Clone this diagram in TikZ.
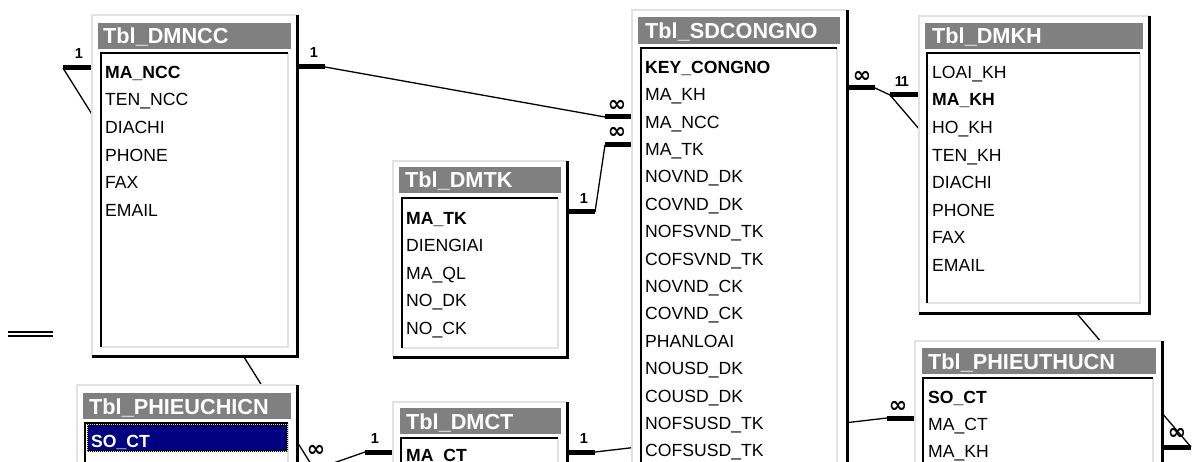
\documentclass[tikz,border=0pt]{standalone}
\usepackage{fontspec}
\setmainfont{Liberation Sans}
\newfontfamily\symfont{DejaVu Sans}
\definecolor{framelite}{RGB}{226,226,226}
\definecolor{titlegray}{RGB}{128,128,128}
\definecolor{selnavy}{RGB}{0,0,128}

\begin{document}
\begin{tikzpicture}[x=1pt, y=-1pt,
  lite/.style={draw=framelite, line width=2pt},
  dark/.style={draw=black, line width=3pt},
  indark/.style={draw=black, line width=2.5pt},
  titlebar/.style={fill=titlegray},
  ttl/.style={anchor=base west, inner sep=0pt, text=white, font=\fontsize{21.7}{24}\selectfont\bfseries},
  fld/.style={anchor=base west, inner sep=0pt, font=\fontsize{17.6}{20}\selectfont},
  pkey/.style={fld, font=\fontsize{17.6}{20}\selectfont\bfseries},
  rel/.style={line width=1.3pt},
  stub/.style={line width=5pt},
  onelbl/.style={inner sep=0pt, font=\fontsize{14.5}{16}\selectfont\bfseries},
  manylbl/.style={inner sep=0pt, font=\symfont\fontsize{22}{24}\selectfont\bfseries}]
\useasboundingbox (0,0) rectangle (1196,462);
\clip (0,0) rectangle (1196,462);

\coordinate (ncc-l) at (63,68);
\coordinate (ncc-r) at (325,67);
\coordinate (sd-ncc) at (605,117);
\coordinate (sd-tk) at (605,145);
\coordinate (tk-r) at (595,212);
\coordinate (sd-kh) at (875,88);
\coordinate (kh-l) at (890,95);
\coordinate (ct-r) at (595,452);
\coordinate (thu-l) at (887,418);
\coordinate (ct-l) at (365,452);
\coordinate (chi-r) at (325,466);
\coordinate (chi-g) at (321,480);
\coordinate (thu-r) at (1191,447);

\draw[rel] (ncc-l) -- (chi-g);
\draw[rel] (ncc-r) -- (sd-ncc);
\draw[rel] (tk-r) -- (sd-tk);
\draw[rel] (sd-kh) -- (kh-l);
\draw[rel] (kh-l) -- (thu-r);
\draw[rel] (ct-r) -- (thu-l);
\draw[rel] (ct-l) -- (chi-r);

\draw[line width=1.5pt] (8,332) -- (53,332);
\draw[line width=1.5pt] (8,336) -- (53,336);

\fill[white] (92,15) rectangle (297,356);
\draw[lite] (92,356) -- (92,15) -- (297,15);
\draw[dark] (297,15) -- (297,356) -- (92,356);
\fill[titlebar] (98,23) rectangle (291,49);
\draw[lite] (288,53) -- (288,347) -- (101,347);
\draw[indark] (101,347) -- (101,53) -- (288,53);
\node[ttl] (ncc) at (103,44) {Tbl\_DMNCC};
\node[pkey] (ncc-1) at (105,78.3) {MA\_NCC};
\node[fld] (ncc-2) at (105,105.9) {TEN\_NCC};
\node[fld] (ncc-3) at (105,133.5) {DIACHI};
\node[fld] (ncc-4) at (105,161.1) {PHONE};
\node[fld] (ncc-5) at (105,188.7) {FAX};
\node[fld] (ncc-6) at (105,216.3) {EMAIL};

\fill[white] (632,10) rectangle (847,480);
\draw[lite] (632,480) -- (632,10) -- (847,10);
\draw[dark] (847,10) -- (847,480);
\fill[titlebar] (638,17) rectangle (840,44);
\draw[lite] (837,48) -- (837,480);
\draw[indark] (641,480) -- (641,48) -- (837,48);
\node[ttl] (sd) at (645,39) {Tbl\_SDCONGNO};
\node[pkey] (sd-1) at (645,73.3) {KEY\_CONGNO};
\node[fld] (sd-2) at (645,100.7) {MA\_KH};
\node[fld] (sd-3) at (645,128.1) {MA\_NCC};
\node[fld] (sd-4) at (645,155.5) {MA\_TK};
\node[fld] (sd-5) at (645,182.9) {NOVND\_DK};
\node[fld] (sd-6) at (645,210.3) {COVND\_DK};
\node[fld] (sd-7) at (645,237.7) {NOFSVND\_TK};
\node[fld] (sd-8) at (645,265.1) {COFSVND\_TK};
\node[fld] (sd-9) at (645,292.5) {NOVND\_CK};
\node[fld] (sd-10) at (645,319.9) {COVND\_CK};
\node[fld] (sd-11) at (645,347.3) {PHANLOAI};
\node[fld] (sd-12) at (645,374.7) {NOUSD\_DK};
\node[fld] (sd-13) at (645,402.1) {COUSD\_DK};
\node[fld] (sd-14) at (645,429.5) {NOFSUSD\_TK};
\node[fld] (sd-15) at (645,456.9) {COFSUSD\_TK};

\fill[white] (919,16) rectangle (1149,313);
\draw[lite] (919,313) -- (919,16) -- (1149,16);
\draw[dark] (1149,16) -- (1149,313) -- (919,313);
\fill[titlebar] (925,23) rectangle (1143,49);
\draw[lite] (1140,53) -- (1140,303) -- (927,303);
\draw[indark] (927,303) -- (927,53) -- (1140,53);
\node[ttl] (kh) at (932,44) {Tbl\_DMKH};
\node[fld] (kh-1) at (932,78.3) {LOAI\_KH};
\node[pkey] (kh-2) at (932,105.9) {MA\_KH};
\node[fld] (kh-3) at (932,133.5) {HO\_KH};
\node[fld] (kh-4) at (932,161.1) {TEN\_KH};
\node[fld] (kh-5) at (932,188.7) {DIACHI};
\node[fld] (kh-6) at (932,216.3) {PHONE};
\node[fld] (kh-7) at (932,243.9) {FAX};
\node[fld] (kh-8) at (932,271.5) {EMAIL};

\fill[white] (393,161) rectangle (567,357);
\draw[lite] (393,357) -- (393,161) -- (567,161);
\draw[dark] (567,161) -- (567,357) -- (393,357);
\fill[titlebar] (399,167) rectangle (561,193);
\draw[lite] (558,198) -- (558,348) -- (402,348);
\draw[indark] (402,348) -- (402,198) -- (558,198);
\node[ttl] (tk) at (405,188) {Tbl\_DMTK};
\node[pkey] (tk-1) at (406,224.3) {MA\_TK};
\node[fld] (tk-2) at (406,251.8) {DIENGIAI};
\node[fld] (tk-3) at (406,279.3) {MA\_QL};
\node[fld] (tk-4) at (406,306.8) {NO\_DK};
\node[fld] (tk-5) at (406,334.3) {NO\_CK};

\fill[white] (77,385) rectangle (297,480);
\draw[lite] (77,480) -- (77,385) -- (297,385);
\draw[dark] (297,385) -- (297,480);
\fill[titlebar] (83,393) rectangle (291,419);
\draw[lite] (288,423) -- (288,480);
\draw[indark] (85,480) -- (85,423) -- (288,423);
\fill[selnavy] (87,424) rectangle (288,452);
\draw[black, line width=1pt] (87.5,424.5) rectangle (287.5,451.5);
\draw[yellow, line width=1pt, dash pattern=on 1pt off 1pt] (87.5,424.5) rectangle (287.5,451.5);
\node[ttl] (chi) at (89,414) {Tbl\_PHIEUCHICN};
\node[pkey, text=white] (chi-1) at (91,447) {SO\_CT};

\fill[white] (393,402) rectangle (567,480);
\draw[lite] (393,480) -- (393,402) -- (567,402);
\draw[dark] (567,402) -- (567,480);
\fill[titlebar] (400,408) rectangle (561,434);
\draw[lite] (558,438) -- (558,480);
\draw[indark] (401,480) -- (401,438) -- (558,438);
\node[ttl] (ct) at (406,429) {Tbl\_DMCT};
\node[pkey] (ct-1) at (406,461) {MA\_CT};

\fill[white] (915,341) rectangle (1162,480);
\draw[lite] (915,480) -- (915,341) -- (1162,341);
\draw[dark] (1162,341) -- (1162,480);
\fill[titlebar] (922,348) rectangle (1156,374);
\draw[lite] (1153,378) -- (1153,480);
\draw[indark] (923,480) -- (923,378) -- (1153,378);
\node[ttl] (thu) at (928,369) {Tbl\_PHIEUTHUCN};
\node[pkey] (thu-1) at (928,403.3) {SO\_CT};
\node[fld] (thu-2) at (928,430.6) {MA\_CT};
\node[fld] (thu-3) at (928,457.9) {MA\_KH};

\draw[stub] (ncc-l) -- ++(28,0);
\draw[stub] (ncc-r) -- ++(-28,0);
\draw[stub] (sd-ncc) -- ++(26,0);
\draw[stub] (sd-tk) -- ++(26,0);
\draw[stub] (tk-r) -- ++(-28,0);
\draw[stub] (sd-kh) -- ++(-28,0);
\draw[stub] (kh-l) -- ++(28,0);
\draw[stub] (ct-r) -- ++(-28,0);
\draw[stub] (thu-l) -- ++(27,0);
\draw[stub] (ct-l) -- ++(27,0);
\draw[stub] (chi-r) -- ++(-28,0);
\draw[stub] (chi-g) -- ++(-24,0);
\draw[stub] (thu-r) -- ++(-28,0);

\node[onelbl] (ncc-l1) at (79,54) {1};
\node[onelbl] (ncc-r1) at (314,53) {1};
\node[onelbl] (tk-r1) at (584,199) {1};
\node[onelbl] (kh-l1) at (899,82) {1};
\node[onelbl] (kh-l2) at (905,82) {1};
\node[onelbl] (ct-r1) at (584,439) {1};
\node[onelbl] (ct-l1) at (375,439) {1};
\node[manylbl] (sd-ncc1) at (617,106) {∞};
\node[manylbl] (sd-tk1) at (617,133) {∞};
\node[manylbl] (sd-kh1) at (862,77) {∞};
\node[manylbl] (thu-l1) at (898,407) {∞};
\node[manylbl] (thu-r1) at (1177,434) {∞};
\node[manylbl] (chi-r1) at (316,451) {∞};
\end{tikzpicture}
\end{document}
